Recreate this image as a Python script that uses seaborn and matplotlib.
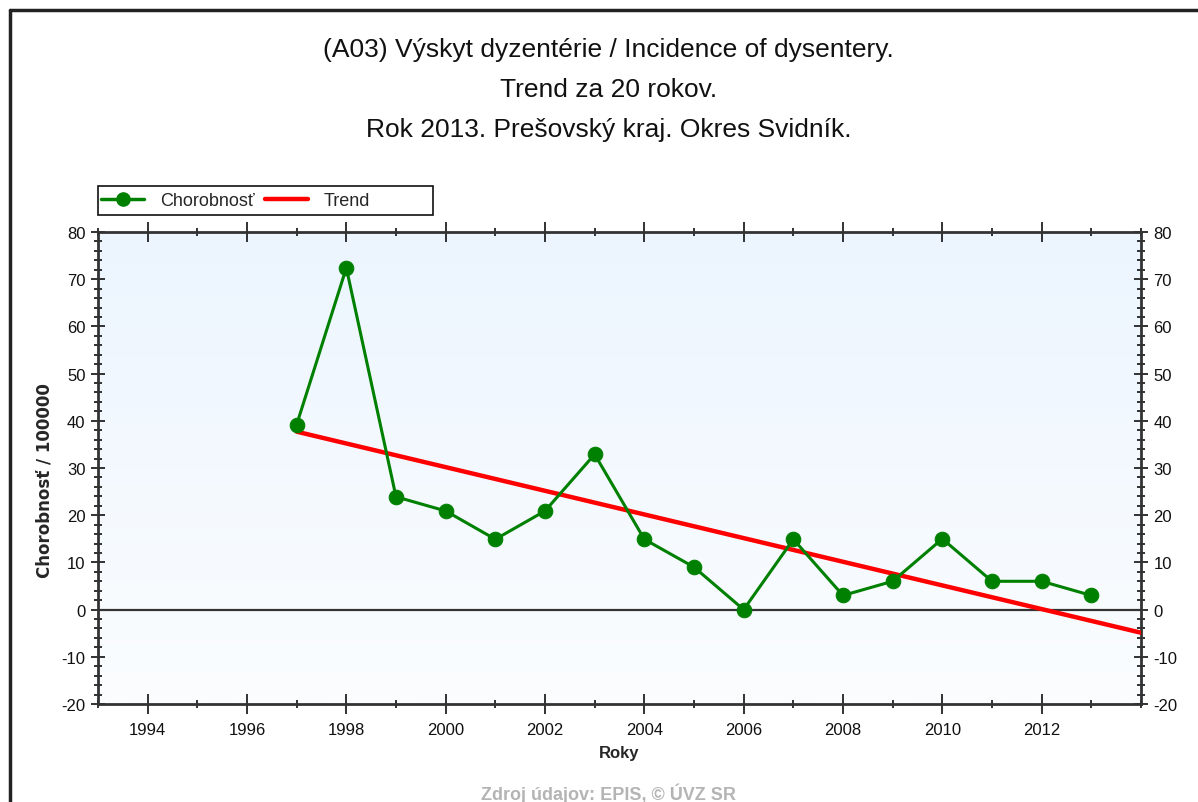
import numpy as np
import pandas as pd
import matplotlib
matplotlib.use("Agg")
import matplotlib.pyplot as plt
from matplotlib.lines import Line2D
from matplotlib.patches import Rectangle
from matplotlib.ticker import MultipleLocator
import seaborn as sns

years = [1997, 1998, 1999, 2000, 2001, 2002, 2003, 2004, 2005, 2006,
         2007, 2008, 2009, 2010, 2011, 2012, 2013]
incidence = [39.2, 72.4, 23.9, 20.9, 14.9, 20.9, 32.9, 14.9, 9.0, 0.0,
             14.9, 3.0, 6.0, 15.0, 6.0, 6.0, 3.0]
trend_years = [1997, 2014]
trend_values = [37.7, -4.9]

title_lines = ["(A03) Výskyt dyzentérie / Incidence of dysentery.",
               "Trend za 20 rokov.",
               "Rok 2013. Prešovský kraj. Okres Svidník."]
series_label = "Chorobnosť"
trend_label = "Trend"
x_label = "Roky"
y_label = "Chorobnosť / 100000"
source_text = "Zdroj údajov: EPIS, © ÚVZ SR"

sns.set_style("white")
plt.rcParams['font.family'] = ['Liberation Sans', 'DejaVu Sans']
plt.rcParams['axes.unicode_minus'] = False

fig = plt.figure(figsize=(11.98, 8.03), dpi=100)
ax = fig.add_axes([98/1198, 1-705/803, (1141-98)/1198, (705-233)/803])

# gradient background
grad = np.linspace(0, 1, 256).reshape(-1, 1)
top_c = np.array([236, 245, 254]) / 255
bot_c = np.array([251, 253, 255]) / 255
img = top_c[None, None, :] * (1 - grad[:, :, None]) + bot_c[None, None, :] * grad[:, :, None]
ax.imshow(img, extent=[1993, 2014, -20, 80], aspect='auto', origin='upper', zorder=0)

ax.axhline(0, color='#333333', lw=1.6, zorder=1)

df = pd.DataFrame({"year": years, "value": incidence})
tdf = pd.DataFrame({"year": trend_years, "value": trend_values})

sns.lineplot(data=tdf, x="year", y="value", ax=ax, color='#ff0000', lw=3.2, zorder=3)
sns.lineplot(data=df, x="year", y="value", ax=ax, color='#008000', lw=2.2,
             marker='o', markersize=10.5, markeredgecolor='#008000', zorder=4)

ax.set_xlim(1993, 2014)
ax.set_ylim(-20, 80)
ax.xaxis.set_minor_locator(MultipleLocator(1))
ax.yaxis.set_major_locator(MultipleLocator(10))
ax.yaxis.set_minor_locator(MultipleLocator(2))
ax.set_xticks([1994 + 2*i for i in range(10)])
ax.set_xticklabels([str(1994 + 2*i) for i in range(10)])

ax.tick_params(axis='both', which='both', direction='inout', colors='#222222',
               labelsize=12, labelcolor='#111111')
ax.tick_params(axis='x', which='major', length=14, width=1.3, top=True, bottom=True, pad=6)
ax.tick_params(axis='x', which='minor', length=6, width=1.3, top=True, bottom=True)
ax.tick_params(axis='y', which='major', length=10, width=1.3, left=True, right=True,
               labelleft=True, labelright=True, pad=4)
ax.tick_params(axis='y', which='minor', length=6, width=1.3, left=True, right=True)

for s in ax.spines.values():
    s.set_color('#333333')
    s.set_linewidth(2)

ax.set_xlabel(x_label, fontsize=12, fontweight='bold', labelpad=6)
ax.set_ylabel(y_label, fontsize=12, fontweight='bold', labelpad=10,
              family=['DejaVu Sans'])
ax.yaxis.set_label_coords(-0.043, 0.475)

fig.text(0.508, 1-38/803, "\n".join(title_lines), ha='center', va='top',
         fontsize=19, linespacing=1.84, color='#111111')

handles = [Line2D([0], [0], color='#008000', lw=2.5, marker='o', markersize=9.5),
           Line2D([0], [0], color='#ff0000', lw=3.2)]
leg = fig.legend(handles, [series_label, trend_label], loc='center left',
                 bbox_to_anchor=(101/1198, 1-202/803),
                 ncol=2, fontsize=13, frameon=False, borderpad=0,
                 handlelength=2.4, handletextpad=0.85, borderaxespad=0, columnspacing=0.6)
fig.add_artist(Rectangle((98/1198, 1-216/803), 335/1198, 29/803, transform=fig.transFigure,
                         fill=False, edgecolor='#111111', lw=1.2))

fig.text(0.508, 1-784/803, source_text, ha='center', va='top', fontsize=13,
         fontweight='bold', color='#b4b4b4')

# outer frame (left and top)
fig.add_artist(Line2D([10/1198, 10/1198], [0, 1-11/803], transform=fig.transFigure,
                      color='#222222', lw=2.5))
fig.add_artist(Line2D([10/1198, 1], [1-11/803, 1-11/803], transform=fig.transFigure,
                      color='#222222', lw=2.5))

fig.savefig("out.png", dpi=100)
